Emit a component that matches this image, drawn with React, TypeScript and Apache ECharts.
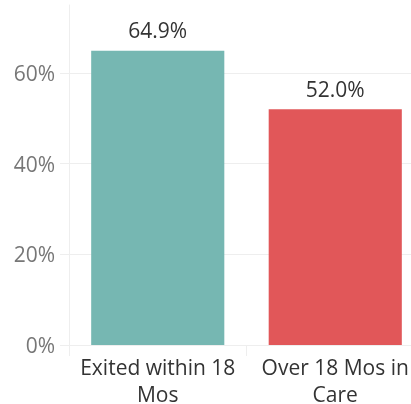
import React, { useEffect, useRef } from "react";
import * as echarts from "echarts";

const categories = ["Exited within 18\nMos", "Over 18 Mos in\nCare"];
const values = [64.9, 52.0];
const barColors = ["#76B7B2", "#E15759"];
const titleText = "Exits to permanency";

export default function App() {
  const ref = useRef<HTMLDivElement>(null);
  useEffect(() => {
    if (!ref.current) return;
    const chart = echarts.init(ref.current, null, { renderer: "svg" });
    const font = "Open Sans";
    chart.setOption({
      animation: false,
      textStyle: { fontFamily: font },
      graphic: [
        {
          type: "text",
          x: 299,
          y: -11,
          style: {
            text: titleText,
            fill: "#1F3FB4",
            font: `bold 17px "${font}"`,
            align: "right",
            verticalAlign: "middle",
          },
        },
      ],
      grid: {
        left: 69,
        width: 355,
        top: 5,
        bottom: 59,
        containLabel: false,
        outerBoundsMode: "none",
      },
      xAxis: {
        type: "category",
        data: categories,
        axisLine: { show: true, lineStyle: { color: "#eeeeee", width: 1 } },
        axisTick: { show: true, length: 11, lineStyle: { color: "#eeeeee" } },
        axisLabel: {
          interval: 0,
          margin: 4.5,
          formatter: (v: string) => {
            const [l1, l2] = v.split("\n");
            return `{a|${l1}}\n{b|${l2}}`;
          },
          rich: {
            a: { color: "#333333", fontSize: 21, lineHeight: 35, fontFamily: font },
            b: { color: "#333333", fontSize: 21, lineHeight: 19, fontFamily: font },
          },
        },
      },
      yAxis: {
        type: "value",
        min: 0,
        max: 75,
        interval: 20,
        axisLine: { show: true, lineStyle: { color: "#eeeeee" } },
        axisTick: { show: true, length: 9, lineStyle: { color: "#eeeeee" } },
        axisLabel: {
          color: "#777777",
          fontSize: 21,
          margin: 14,
          showMaxLabel: false,
          fontFamily: font,
          formatter: (v: number) => `${v}%`,
        },
        splitLine: { show: true, showMaxLine: false, lineStyle: { color: "#eeeeee" } },
      },
      series: [
        {
          type: "bar",
          barWidth: "75%",
          data: values.map((v, i) => ({ value: v, itemStyle: { color: barColors[i] } })),
          label: {
            show: true,
            position: "top",
            distance: 10,
            color: "#333333",
            fontSize: 21,
            fontFamily: font,
            formatter: (p: any) => `${p.value.toFixed(1)}%`,
          },
        },
      ],
    });
    return () => chart.dispose();
  }, []);
  return (
    <div
      ref={ref}
      style={{ position: "fixed", left: 0, top: 0, width: 411, height: 404 }}
    />
  );
}
